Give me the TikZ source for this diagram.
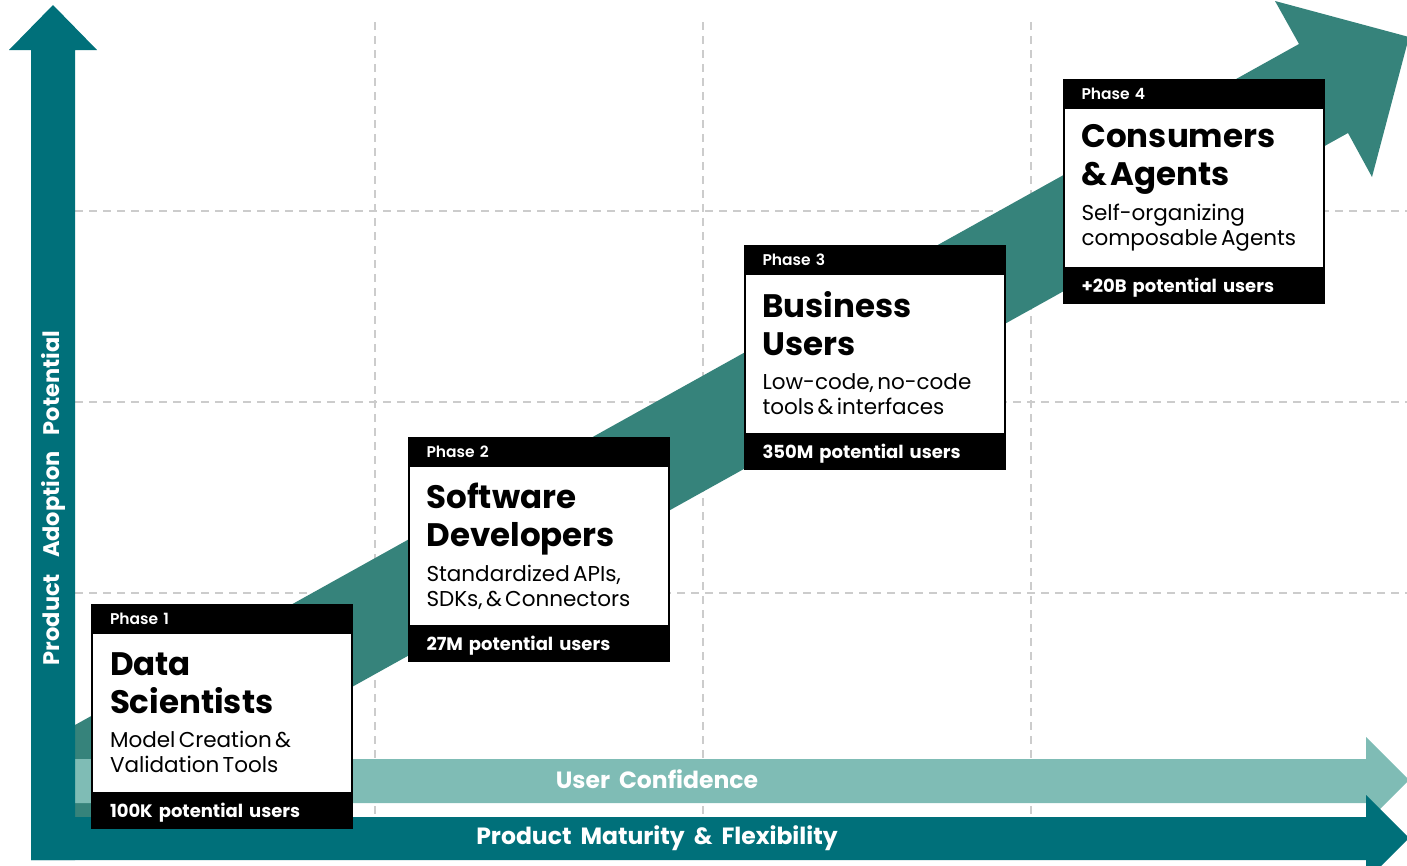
\documentclass[tikz,border=0pt]{standalone}
\usepackage{fontspec}
\setmainfont{Poppins}[WordSpace=1.8]
\newfontfamily\semibold{Poppins SemiBold}[WordSpace=1.4]
\usepackage{xcolor}
\usetikzlibrary{positioning}
\definecolor{tealdark}{RGB}{0,112,122}
\definecolor{tealmid}{RGB}{54,131,123}
\definecolor{teallight}{RGB}{127,188,181}
\definecolor{gridgray}{RGB}{204,204,204}
\newcommand{\phtitle}[1]{{\fontsize{32.5}{38}\selectfont\bfseries #1\par}}
\newcommand{\phdesc}[1]{\vspace{9pt}{\fontsize{21.5}{25}\selectfont #1\par}}
\newcommand{\widespace}{\spaceskip=16pt\relax}

\begin{document}
\begin{tikzpicture}[x=1pt, y=-1pt,
    gridline/.style={gridgray, line width=1.5pt, dash pattern=on 8pt off 6pt},
    bodybox/.style={draw=black, line width=2pt, fill=white, minimum width=260pt, minimum height=160pt,
        text width=224pt, inner xsep=18pt, inner ysep=0pt, outer sep=0pt, align=left},
    headbox/.style={draw=black, line width=2pt, fill=black, text=white, minimum width=260pt, minimum height=28pt,
        text width=224pt, inner xsep=18pt, inner ysep=0pt, outer sep=0pt, align=left, text depth=0pt,
        font=\fontsize{15.5}{18}\selectfont\semibold},
    footbox/.style={headbox, minimum height=35pt, font=\fontsize{18}{22}\selectfont\bfseries},
    axislabel/.style={text=white, font=\fontsize{23.5}{26}\selectfont\bfseries}]
    \useasboundingbox (0,0) rectangle (1407,865);
    % Grid
    \foreach \x in {375,703,1031}
        \draw[gridline] (\x,22) -- (\x,815);
    \foreach \y in {211,402,593}
        \draw[gridline] (75,\y) -- (1407,\y);
    % Growth arrow
    \fill[tealmid] (75,725) -- (1299,44) -- (1275,1) -- (1409,37) -- (1372,177) -- (1348,133) -- (75,841) -- cycle;
    % User confidence arrow
    \fill[teallight] (75,759) -- (1366,759) -- (1366,737) -- (1409,780) -- (1366,823) -- (1366,803) -- (75,803) -- cycle;
    % Axes
    \fill[tealdark] (31,860) -- (31,50) -- (9,50) -- (53,5) -- (97,50) -- (75,50) -- (75,860) -- cycle;
    \fill[tealdark] (31,817) -- (1366,817) -- (1366,795) -- (1409,838) -- (1366,881) -- (1366,860) -- (31,860) -- cycle;
    % Axis labels
    \node[axislabel, rotate=90, font=\fontsize{22.5}{26}\selectfont\bfseries\widespace] (adoption) at (53,498) {Product Adoption Potential};
    \node[axislabel] (confidence) at (657,779) {User Confidence};
    \node[axislabel] (maturity) at (657,838) {Product Maturity \& Flexibility};
    % Phase 1
    \node[bodybox] (p1) at (222,713) {\phtitle{Data\\Scientists}\phdesc{Model Creation \&\\Validation Tools}};
    \node[headbox, above=0pt of p1] (p1h) {Phase 1};
    \node[footbox, below=0pt of p1] (p1f) {100K potential users};
    % Phase 2
    \node[bodybox] (p2) at (538.5,546) {\phtitle{Software\\Developers}\phdesc{Standardized APIs,\\SDKs, \& Connectors}};
    \node[headbox, above=0pt of p2] (p2h) {Phase 2};
    \node[footbox, below=0pt of p2] (p2f) {27M potential users};
    % Phase 3
    \node[bodybox] (p3) at (874.5,353.5) {\phtitle{Business\\Users}\phdesc{Low-code, no-code\\tools \& interfaces}};
    \node[headbox, above=0pt of p3] (p3h) {Phase 3};
    \node[footbox, below=0pt of p3] (p3f) {350M potential users};
    % Phase 4
    \node[bodybox] (p4) at (1193.5,188) {\phtitle{Consumers\\\& Agents}\phdesc{Self-organizing\\composable Agents}};
    \node[headbox, above=0pt of p4] (p4h) {Phase 4};
    \node[footbox, below=0pt of p4] (p4f) {+20B potential users};
\end{tikzpicture}
\end{document}
